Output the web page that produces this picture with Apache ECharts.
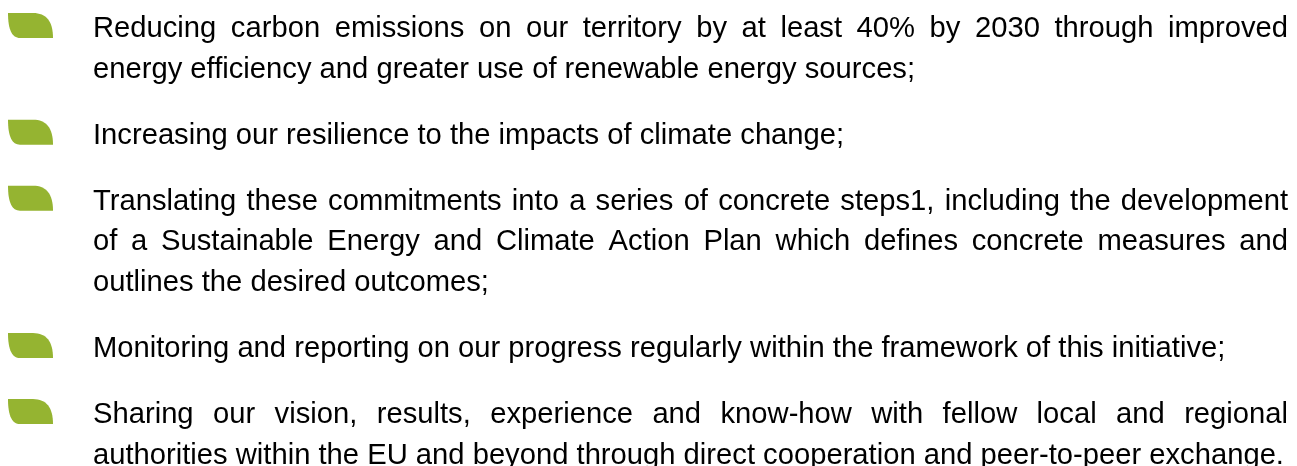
<!DOCTYPE html>
<html><head><meta charset="utf-8">
<script src="https://cdn.jsdelivr.net/npm/echarts@6/dist/echarts.min.js"></script>
<style>html,body{margin:0;padding:0;background:#fff}#c{width:1297px;height:466px}</style>
</head><body><div id="c"></div>
<script>
// Text content: each item is a list of its printed lines
const item1Lines = [
  "Reducing carbon emissions on our territory by at least 40% by 2030 through improved",
  "energy efficiency and greater use of renewable energy sources;"
];
const item2Lines = [
  "Increasing our resilience to the impacts of climate change;"
];
const item3Lines = [
  "Translating these commitments into a series of concrete steps1, including the development",
  "of a Sustainable Energy and Climate Action Plan which defines concrete measures and",
  "outlines the desired outcomes;"
];
const item4Lines = [
  "Monitoring and reporting on our progress regularly within the framework of this initiative;"
];
const item5Lines = [
  "Sharing our vision, results, experience and know-how with fellow local and regional",
  "authorities within the EU and beyond through direct cooperation and peer-to-peer exchange."
];
const items = [item1Lines, item2Lines, item3Lines, item4Lines, item5Lines];

// Layout / style
const FONT_SIZE = 29.2;
const FONT_FAMILY = '"Liberation Sans", Arial, sans-serif';
const TEXT_LEFT = 93, TEXT_RIGHT = 1288;
const FIRST_BASELINE = 38, LINE_STEP = 40.7, PARA_GAP = 25.3;
const BULLET_COLOR = '#95b431';
const TEXT_COLOR = '#000000';
const BULLET_W = 45, BULLET_H = 25, BULLET_X = 8;

// leaf-shaped bullet outline: two quadratic curves joined by flat edges
function leafPoints(x0, y0) {
  const pts = [];
  const quad = (p0, p1, p2) => {
    for (let i = 0; i <= 16; i++) {
      const t = i / 16, u = 1 - t;
      pts.push([x0 + u*u*p0[0] + 2*u*t*p1[0] + t*t*p2[0],
                y0 + u*u*p0[1] + 2*u*t*p1[1] + t*t*p2[1]]);
    }
  };
  const W = BULLET_W, H = BULLET_H, topFlat = 25, leftCurve = 12;
  pts.push([x0, y0]);
  quad([topFlat, 0], [W, 0], [W, H]);
  quad([leftCurve, H], [0, H], [0, 0]);
  return pts;
}

const chart = echarts.init(document.getElementById('c'), null, {renderer: 'canvas'});
const ctx = document.createElement('canvas').getContext('2d');
ctx.font = FONT_SIZE + 'px ' + FONT_FAMILY;
const measure = s => ctx.measureText(s).width;
const MID_OFFSET = 0.3465 * FONT_SIZE - 1;

const elements = [];
let baseline = FIRST_BASELINE;
items.forEach((lines) => {
  elements.push({
    type: 'polygon',
    shape: {points: leafPoints(BULLET_X, baseline - BULLET_H)},
    style: {fill: BULLET_COLOR}
  });
  lines.forEach((line, li) => {
    const isLast = li === lines.length - 1;
    const textStyle = {fill: TEXT_COLOR, font: FONT_SIZE + 'px ' + FONT_FAMILY,
      verticalAlign: 'middle', align: 'left'};
    const y = baseline - MID_OFFSET;
    if (isLast) {
      elements.push({type: 'text', x: TEXT_LEFT, y: y,
        style: Object.assign({text: line}, textStyle)});
    } else {
      const words = line.split(' ');
      const widths = words.map(measure);
      const total = widths.reduce((a, b) => a + b, 0);
      const gap = (TEXT_RIGHT - TEXT_LEFT - total) / (words.length - 1);
      let x = TEXT_LEFT;
      words.forEach((w, wi) => {
        elements.push({type: 'text', x: x, y: y,
          style: Object.assign({text: w}, textStyle)});
        x += widths[wi] + gap;
      });
      baseline += LINE_STEP;
    }
  });
  baseline += LINE_STEP + PARA_GAP;
});

chart.setOption({
  backgroundColor: '#ffffff',
  animation: false,
  graphic: {elements: elements}
});
</script>
</body></html>
